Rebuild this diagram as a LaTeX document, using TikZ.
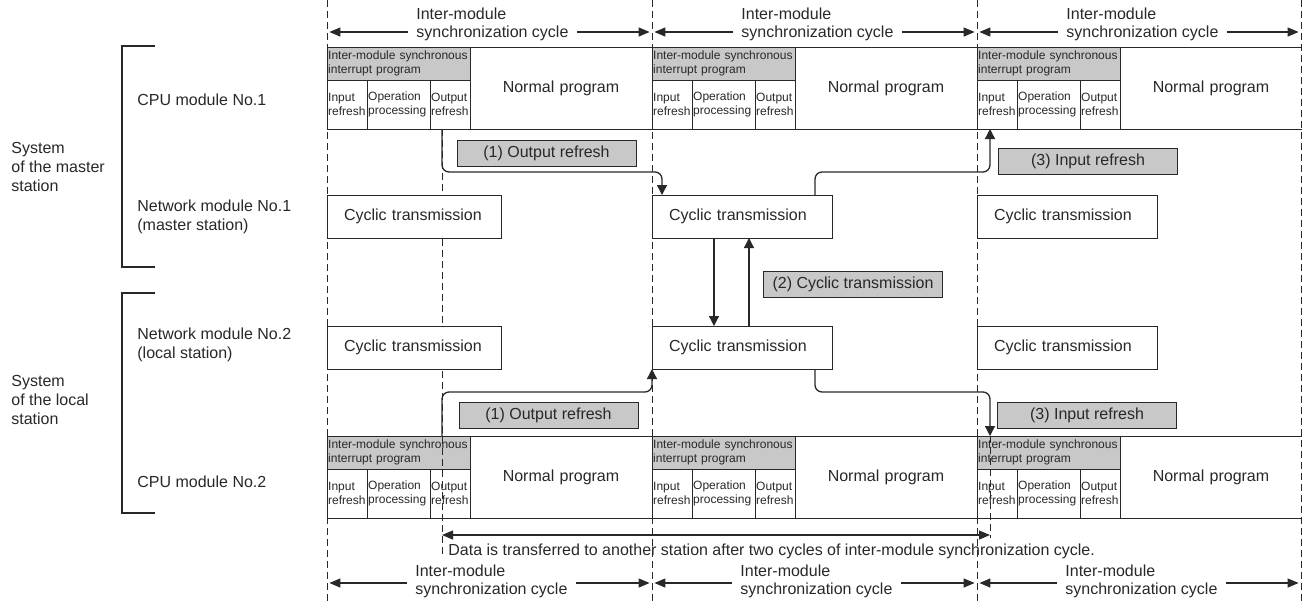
\documentclass[tikz,border=0pt]{standalone}
\usepackage{fontspec}
\setmainfont{Liberation Sans}
\usetikzlibrary{arrows.meta}

\definecolor{tagfill}{RGB}{200,200,200}
\definecolor{ink}{RGB}{40,40,40}

\tikzset{
  cell/.style={draw=ink, line width=0.5pt, anchor=north west, outer sep=0pt,
    inner xsep=0.6pt, inner ysep=0pt, align=left, text=ink,
    font=\fontsize{6}{7}\selectfont},
  hdrcell/.style={cell, fill=tagfill, text width=70.3pt, minimum width=71.5pt, minimum height=16.5pt},
  incell/.style={cell, text width=18.8pt, minimum width=20pt, minimum height=24.5pt},
  opcell/.style={cell, text width=30.3pt, minimum width=31.5pt, minimum height=24.5pt},
  normcell/.style={cell, align=center, text width=89pt, minimum width=91pt, minimum height=41pt,
    font=\fontsize{8}{9.5}\selectfont},
  nmbox/.style={draw=ink, fill=white, line width=0.5pt, anchor=north west, outer sep=0pt,
    inner xsep=8.5pt, text width=#1, minimum height=21.5pt, align=left, text=ink,
    font=\fontsize{8}{9.5}\selectfont},
  nmbox/.default=73pt,
  tag/.style={draw=ink, line width=0.5pt, fill=tagfill, minimum width=89.5pt, minimum height=13pt,
    inner sep=0pt, text=ink, font=\fontsize{8}{9.5}\selectfont},
  lbl/.style={anchor=west, align=left, inner sep=0pt, text=ink, font=\fontsize{8}{9.5}\selectfont},
  cyctext/.style={anchor=west, align=left, inner sep=0pt, text=ink, font=\fontsize{8}{9}\selectfont},
  cycline/.style={draw=ink, line width=0.5pt, dash pattern=on 3.5pt off 2pt},
  conn/.style={draw=ink, line width=0.65pt, rounded corners=3.5pt, -{Triangle[length=5pt,width=5pt]}},
  cyc/.style={draw=ink, line width=0.6pt, -{Triangle[length=5.5pt,width=4.5pt]}},
  brk/.style={draw=ink, line width=0.6pt}
}

\begin{document}
\begin{tikzpicture}[x=0.5pt,y=-0.5pt]
  \useasboundingbox (0,0) rectangle (1302,601);

  % cycle boundaries
  \foreach \x in {327,652,977,1301}
    \draw[cycline] (\x,0) -- (\x,601);

  % left brackets and row labels
  \draw[brk] (155,46) -- (122,46) -- (122,267) -- (155,267);
  \draw[brk] (155,293) -- (122,293) -- (122,513) -- (155,513);
  \node[lbl] (sysA) at (11,166.5) {System\\of the master\\station};
  \node[lbl] (sysB) at (11,400) {System\\of the local\\station};
  \node[lbl] (cpuA-lbl) at (137,100) {CPU module No.1};
  \node[lbl] (nmA-lbl) at (137,216.5) {Network module No.1\\(master station)};
  \node[lbl] (nmB-lbl) at (137,345) {Network module No.2\\(local station)};
  \node[lbl] (cpuB-lbl) at (137,482) {CPU module No.2};

  % CPU blocks, one per cycle
  \foreach \i in {0,1,2} {
    \pgfmathsetmacro\x{327+325*\i}
    \foreach \r/\yy in {A/47,B/436} {
      \node[hdrcell] (cpu\r-hdr-\i) at (\x,\yy) {Inter-module synchronous\\interrupt program};
      \node[incell] (cpu\r-in-\i) at (cpu\r-hdr-\i.south west) {Input\\refresh};
      \node[opcell] (cpu\r-op-\i) at (cpu\r-in-\i.north east) {Operation\\processing};
      \node[incell] (cpu\r-out-\i) at (cpu\r-op-\i.north east) {Output\\refresh};
      \node[normcell] (cpu\r-norm-\i) at (cpu\r-hdr-\i.north east) {Normal program};
    }
  }

  % transfer span
  \coordinate (tA) at (442,535);
  \coordinate (tB) at (990,535);
  \coordinate (lvA) at (0,172);
  \coordinate (lvB) at (0,392);
  \draw[cycline] (tA |- cpuA-out-0.south) -- ([yshift=-11pt]tA);
  \draw[cycline] (tB |- cpuB-hdr-2.north) -- ([yshift=-1.5pt]tB);
  \draw[cyc, {Triangle[length=5.5pt,width=4.5pt]}-{Triangle[length=5.5pt,width=4.5pt]}] (tA) -- (tB);
  \node[lbl] (datT) at (448,551)
    {Data is transferred to another station after two cycles of inter-module synchronization cycle.};

  % network boxes
  \foreach \i/\w in {0/70pt,1/73pt,2/73pt} {
    \pgfmathsetmacro\x{327+325*\i}
    \node[nmbox=\w] (nmA-\i) at (\x,195) {Cyclic transmission};
    \node[nmbox=\w] (nmB-\i) at (\x,326) {Cyclic transmission};
  }

  % cycle arrows, top and bottom
  \foreach \i in {0,1,2} {
    \node[cyctext] (cycT-\i) at ({416+325*\i},24) {Inter-module\\synchronization cycle};
    \node[cyctext] (cycB-\i) at ({415+325*\i},581) {Inter-module\\synchronization cycle};
  }
  \foreach \x [count=\k from 0] in {327,652,977,1301} {
    \coordinate (bT-\k) at (\x,32);
    \coordinate (bB-\k) at (\x,583);
  }
  \foreach \i [evaluate=\i as \j using int(\i+1)] in {0,1,2} {
    \draw[cyc] ([xshift=-4pt]cycT-\i.west |- bT-\i) -- ([xshift=1.2pt]bT-\i);
    \draw[cyc] ([xshift=4pt]cycT-\i.east |- bT-\i) -- ([xshift=-1.2pt]bT-\j);
    \draw[cyc] ([xshift=-4pt]cycB-\i.west |- bB-\i) -- ([xshift=1.2pt]bB-\i);
    \draw[cyc] ([xshift=4pt]cycB-\i.east |- bB-\i) -- ([xshift=-1.2pt]bB-\j);
  }

  % connectors
  \coordinate (inA) at ([xshift=5pt]nmA-1.north west);
  \coordinate (dnA) at ([xshift=31pt]nmA-1.south west);
  \coordinate (upA) at ([xshift=48.5pt]nmA-1.south west);
  \coordinate (outA) at ([xshift=-8.5pt]nmA-1.north east);
  \coordinate (outB) at ([xshift=-8.5pt]nmB-1.south east);
  \draw[conn] (tA |- cpuA-out-0.south) |- (inA |- lvA) -- (inA);
  \draw[conn] (tA |- cpuB-hdr-0.north) |- (nmB-1.south west |- lvB) -- (nmB-1.south west);
  \draw[conn] (dnA) -- (dnA |- nmB-1.north);
  \draw[conn] (upA |- nmB-1.north) -- (upA);
  \draw[conn] (outA) |- (tB |- lvA) -- (tB |- cpuA-in-2.south);
  \draw[conn] (outB) |- (tB |- lvB) -- (tB |- cpuB-hdr-2.north);

  % step labels
  \node[tag] (tag1A) at (546.5,153) {(1) Output refresh};
  \node[tag] (tag1B) at (548.5,415.5) {(1) Output refresh};
  \node[tag] (tag2) at (853,284) {(2) Cyclic transmission};
  \node[tag] (tag3A) at (1088,161.5) {(3) Input refresh};
  \node[tag] (tag3B) at (1087,415) {(3) Input refresh};
\end{tikzpicture}
\end{document}
